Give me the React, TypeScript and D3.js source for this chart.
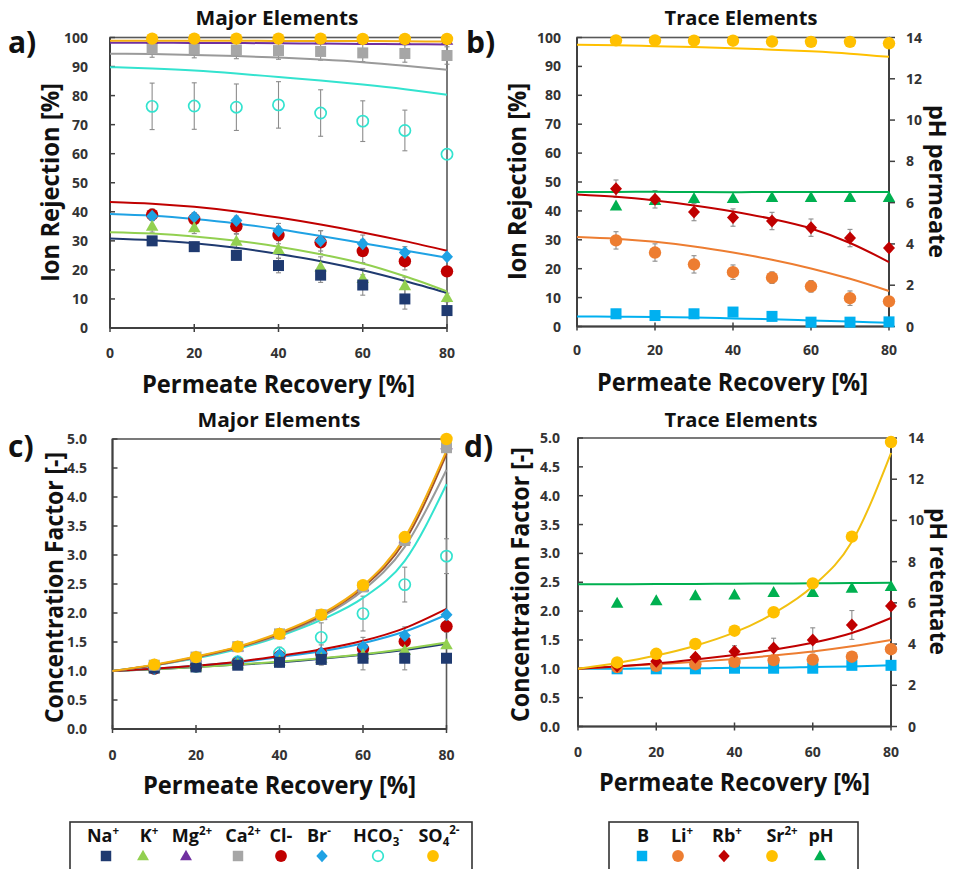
import React from "react";
import * as d3 from "d3";

// Sampling points (permeate recovery, %)
const recovery = [10, 20, 30, 40, 50, 60, 70, 80];
const modelRecovery = [0, 10, 20, 30, 40, 50, 60, 70, 80];

// a) Ion rejection, major elements — measurements
const rejNa = [30, 28, 25, 21.5, 18.2, 14.8, 10, 6];
const rejNaErr = [1.5, 1.5, 1.5, 2.5, 2.5, 3.5, 3.5, 1];
const rejK = [35, 34.5, 29.8, 27, 21, 17, 14.5, 10.5];
const rejKErr = [2, 2, 2.5, 3, 3.5, 3.5, 3, 1.5];
const rejMg = [99.4, 99.4, 99.3, 99.3, 99.2, 99.2, 99.1, 99];
const rejCa = [96.2, 96, 95.7, 95.5, 95.2, 94.7, 94.5, 93.8];
const rejCaErr = [3, 3, 3, 3, 3, 3, 3, 3];
const rejCl = [39, 37.5, 35, 32, 29.5, 26.5, 23, 19.5];
const rejClErr = [2, 2, 2.5, 3, 4, 4, 3, 1.5];
const rejBr = [38.5, 38.2, 37, 33.5, 30, 29, 26, 24.5];
const rejBrErr = [1.5, 1.5, 1.5, 2.5, 3.5, 3, 2, 1];
const rejHCO3 = [76.3, 76.4, 76, 76.8, 74, 71.2, 68, 59.8];
const rejHCO3Err = [8, 8, 8, 8, 8, 7, 7, 0];
const rejSO4 = [99.6, 99.6, 99.6, 99.6, 99.6, 99.5, 99.5, 99.5];

// a) model curves
const modRejNa = [30.8, 30.2, 29.2, 27.6, 25.5, 23, 19.9, 16.2, 12.1];
const modRejK = [33, 32.5, 31.5, 30, 28, 25.4, 22.2, 17.8, 12.6];
const modRejMg = [98.2, 98.2, 98.1, 98.1, 98, 97.9, 97.8, 97.7, 97.6];
const modRejCa = [94.4, 94.3, 94, 93.6, 93.1, 92.4, 91.5, 90.3, 88.9];
const modRejCl = [43.4, 42.8, 41.7, 40.1, 38, 35.6, 32.9, 29.9, 26.6];
const modRejBr = [39.2, 38.6, 37.5, 36, 34, 31.7, 29.2, 26.7, 24.2];
const modRejHCO3 = [89.8, 89.3, 88.6, 87.6, 86.4, 85.2, 83.8, 82.2, 80.3];
const modRejSO4 = [98.9, 98.9, 98.9, 98.9, 98.8, 98.8, 98.8, 98.7, 98.6];

// b) Ion rejection, trace elements — measurements
const rejB = [4.4, 3.8, 4.4, 5.0, 3.5, 1.5, 1.5, 1.6];
const rejBErr = [1.5, 1.5, 1.5, 1.5, 1.5, 1, 1, 0.5];
const rejLi = [29.8, 25.6, 21.5, 18.8, 16.9, 13.9, 9.8, 8.7];
const rejLiErr = [3, 3, 3, 2.5, 2, 2, 2.5, 1];
const rejRb = [47.7, 44, 39.6, 37.7, 36.5, 34.2, 30.6, 27.2];
const rejRbErr = [3, 3, 3, 3, 3, 3, 3, 1];
const rejSr = [99, 99, 98.9, 98.9, 98.6, 98.5, 98.5, 98];
const pHPermeate = [5.83, 6.1, 6.2, 6.2, 6.25, 6.25, 6.25, 6.25];

// b) model curves
const modRejB = [3.5, 3.4, 3.3, 3.1, 2.8, 2.5, 2.1, 1.7, 1.3];
const modRejLi = [31, 30.4, 29.3, 27.7, 25.6, 23.1, 20.1, 16.5, 12.3];
const modRejRb = [45.7, 44.9, 43.6, 41.9, 39.8, 37.2, 33.9, 28.9, 22.3];
const modRejSr = [97.5, 97.3, 97, 96.7, 96.3, 95.8, 95.2, 94.4, 93.3];
const modPHPermeate = [6.52, 6.52, 6.53, 6.51, 6.5, 6.52, 6.52, 6.52, 6.52];

// c) Concentration factor, major elements — measurements
const cfNa = [1.05, 1.07, 1.1, 1.15, 1.2, 1.22, 1.22, 1.22];
const cfNaErr = [0.03, 0.03, 0.05, 0.08, 0.1, 0.2, 0.2, 0.05];
const cfK = [1.05, 1.07, 1.12, 1.17, 1.22, 1.28, 1.35, 1.45];
const cfMg = [1.1, 1.24, 1.41, 1.64, 1.96, 2.45, 3.28, 4.9];
const cfCa = [1.1, 1.24, 1.42, 1.64, 1.97, 2.45, 3.25, 4.85];
const cfCl = [1.04, 1.08, 1.14, 1.25, 1.3, 1.38, 1.51, 1.77];
const cfClErr = [0.03, 0.05, 0.08, 0.1, 0.15, 0.2, 0.25, 0.1];
const cfBr = [1.04, 1.08, 1.16, 1.28, 1.31, 1.42, 1.61, 1.97];
const cfHCO3 = [1.05, 1.08, 1.16, 1.31, 1.58, 1.99, 2.49, 2.98];
const cfHCO3Err = [0.03, 0.05, 0.08, 0.1, 0.25, 0.3, 0.3, 0.3];
const cfSO4 = [1.11, 1.24, 1.42, 1.64, 1.97, 2.48, 3.31, 5.0];

// c) model curves
const modCfNa = [1, 1.03, 1.07, 1.11, 1.15, 1.21, 1.28, 1.36, 1.47];
const modCfK = [1, 1.03, 1.07, 1.11, 1.16, 1.22, 1.29, 1.38, 1.49];
const modCfMg = [1, 1.1, 1.24, 1.41, 1.64, 1.96, 2.44, 3.24, 4.74];
const modCfCa = [1, 1.1, 1.23, 1.4, 1.62, 1.93, 2.39, 3.14, 4.47];
const modCfCl = [1, 1.04, 1.09, 1.16, 1.26, 1.37, 1.52, 1.74, 2.07];
const modCfBr = [1, 1.04, 1.09, 1.15, 1.24, 1.34, 1.48, 1.68, 1.97];
const modCfHCO3 = [1, 1.1, 1.22, 1.38, 1.6, 1.88, 2.26, 2.9, 4.22];
const modCfSO4 = [1, 1.11, 1.25, 1.42, 1.66, 1.98, 2.47, 3.3, 4.8];

// d) Concentration factor, trace elements — measurements
const cfB = [1.0, 1.0, 1.0, 1.01, 1.01, 1.01, 1.06, 1.06];
const cfLi = [1.03, 1.05, 1.08, 1.12, 1.15, 1.16, 1.21, 1.34];
const cfLiErr = [0.03, 0.03, 0.04, 0.05, 0.05, 0.05, 0.06, 0.04];
const cfRb = [1.05, 1.13, 1.2, 1.3, 1.36, 1.5, 1.76, 2.09];
const cfRbErr = [0.03, 0.05, 0.06, 0.1, 0.17, 0.21, 0.25, 0.05];
const cfSr = [1.11, 1.26, 1.43, 1.66, 1.98, 2.48, 3.29, 4.93];
const pHRetentate = [5.98, 6.1, 6.34, 6.38, 6.5, 6.5, 6.7, 6.79];

// d) model curves
const modCfB = [1, 1, 1.01, 1.01, 1.02, 1.02, 1.03, 1.04, 1.06];
const modCfLi = [1, 1.04, 1.08, 1.12, 1.17, 1.23, 1.3, 1.39, 1.5];
const modCfRb = [1, 1.04, 1.09, 1.16, 1.24, 1.33, 1.45, 1.62, 1.88];
const modCfSr = [1, 1.1, 1.23, 1.4, 1.63, 1.96, 2.43, 3.2, 4.74];
const modPHRetentate = [6.9, 6.9, 6.91, 6.92, 6.93, 6.94, 6.95, 6.96, 6.98];

// Axis ticks
const xTicks = [0, 20, 40, 60, 80];
const rejTicks = [0, 10, 20, 30, 40, 50, 60, 70, 80, 90, 100];
const cfTicks = [0, 0.5, 1, 1.5, 2, 2.5, 3, 3.5, 4, 4.5, 5];
const pHTicks = [0, 2, 4, 6, 8, 10, 12, 14];

// Palette
const C = {
  na: "#1F3A70",
  k: "#92D050",
  mg: "#7030A0",
  ca: "#A6A6A6",
  cl: "#C00000",
  br: "#1FA2E4",
  hco3: "#33E3CF",
  so4: "#FFC000",
  so4Line: "#F5AE10",
  b: "#00B0F0",
  li: "#ED7D31",
  rb: "#C00000",
  sr: "#FFC000",
  ph: "#00B050",
};

const FONT = "'Open Sans', 'DejaVu Sans', sans-serif";
const AXIS = "#404040";
const TICK_TEXT = "#333333";

type Shape = "square" | "triangle" | "circle" | "diamond" | "ring";

function Marker({ shape, x, y, color, s = 1 }: { shape: Shape; x: number; y: number; color: string; s?: number }) {
  switch (shape) {
    case "square":
      return <rect x={x - 5.5 * s} y={y - 5.5 * s} width={11 * s} height={11 * s} fill={color} />;
    case "triangle": {
      const h = 11 * s;
      const w = 12.5 * s;
      return <path d={`M${x},${y - h * 0.6}L${x + w / 2},${y + h * 0.4}L${x - w / 2},${y + h * 0.4}Z`} fill={color} />;
    }
    case "circle":
      return <circle cx={x} cy={y} r={6.2 * s} fill={color} />;
    case "diamond":
      return <path d={`M${x},${y - 6.5 * s}L${x + 6 * s},${y}L${x},${y + 6.5 * s}L${x - 6 * s},${y}Z`} fill={color} />;
    case "ring":
      return <circle cx={x} cy={y} r={5.6 * s} fill="none" stroke={color} strokeWidth={1.7} />;
  }
}

interface PointSeries {
  ys: number[];
  err?: number[];
  shape: Shape;
  color: string;
  right?: boolean;
}
interface CurveSeries {
  ys: number[];
  color: string;
  right?: boolean;
}
interface Box {
  left: number;
  right: number;
  bottom: number;
  top: number;
}

function Panel({
  box,
  yMax,
  yTicks,
  yFmt,
  yLabelEnd,
  xLabelBaseline,
  rightMax,
  rightTicks,
  rightLabelStart,
  curves,
  points,
}: {
  box: Box;
  yMax: number;
  yTicks: number[];
  yFmt: (v: number) => string;
  yLabelEnd: number;
  xLabelBaseline: number;
  rightMax?: number;
  rightTicks?: number[];
  rightLabelStart?: number;
  curves: CurveSeries[];
  points: PointSeries[];
}) {
  const x = d3.scaleLinear().domain([0, 80]).range([box.left, box.right]);
  const y = d3.scaleLinear().domain([0, yMax]).range([box.bottom, box.top]);
  const yR = d3.scaleLinear().domain([0, rightMax ?? 1]).range([box.bottom, box.top]);
  const lineFor = (sc: d3.ScaleLinear<number, number>) =>
    d3
      .line<number>()
      .x((_, i) => x(modelRecovery[i]))
      .y((v) => sc(v))
      .curve(d3.curveMonotoneX);

  return (
    <g>
      {/* plot frame */}
      <rect
        x={box.left}
        y={box.top}
        width={box.right - box.left}
        height={box.bottom - box.top}
        fill="none"
        stroke="#595959"
        strokeWidth={1.6}
      />
      {/* left axis */}
      <line x1={box.left} x2={box.left} y1={box.bottom} y2={box.top} stroke={AXIS} strokeWidth={2} />
      {yTicks.map((t) => (
        <g key={`y${t}`}>
          <line x1={box.left} x2={box.left + 5} y1={y(t)} y2={y(t)} stroke={AXIS} strokeWidth={1.5} />
          <text
            x={yLabelEnd}
            y={y(t) + 5}
            textAnchor="end"
            fontFamily={FONT}
            fontWeight={700}
            fontSize={14}
            fill={TICK_TEXT}
          >
            {yFmt(t)}
          </text>
        </g>
      ))}
      {/* bottom axis */}
      <line x1={box.left} x2={box.right} y1={box.bottom} y2={box.bottom} stroke={AXIS} strokeWidth={2} />
      {xTicks.map((t) => (
        <g key={`x${t}`}>
          <line x1={x(t)} x2={x(t)} y1={box.bottom - 4} y2={box.bottom + 4} stroke={AXIS} strokeWidth={1.5} />
          <text
            x={x(t)}
            y={xLabelBaseline}
            textAnchor="middle"
            fontFamily={FONT}
            fontWeight={700}
            fontSize={14}
            fill={TICK_TEXT}
          >
            {t}
          </text>
        </g>
      ))}
      {/* right (pH) axis */}
      {rightTicks && (
        <g>
          <line x1={box.right} x2={box.right} y1={box.bottom} y2={box.top} stroke={AXIS} strokeWidth={2} />
          {rightTicks.map((t) => (
            <g key={`r${t}`}>
              <line x1={box.right} x2={box.right + 6} y1={yR(t)} y2={yR(t)} stroke={AXIS} strokeWidth={1.5} />
              <text
                x={rightLabelStart}
                y={yR(t) + 5}
                textAnchor="start"
                fontFamily={FONT}
                fontWeight={700}
                fontSize={14}
                fill={TICK_TEXT}
              >
                {t}
              </text>
            </g>
          ))}
        </g>
      )}
      {/* error bars */}
      {points.map((p, si) =>
        p.err
          ? p.ys.map((v, i) => {
              const sc = p.right ? yR : y;
              const e = p.err![i];
              if (!e) return null;
              const cx = x(recovery[i]);
              return (
                <g key={`e${si}-${i}`} stroke="#8C8C8C" strokeWidth={1.1}>
                  <line x1={cx} x2={cx} y1={sc(v - e)} y2={sc(v + e)} />
                  <line x1={cx - 2.5} x2={cx + 2.5} y1={sc(v - e)} y2={sc(v - e)} />
                  <line x1={cx - 2.5} x2={cx + 2.5} y1={sc(v + e)} y2={sc(v + e)} />
                </g>
              );
            })
          : null
      )}
      {/* model curves */}
      {curves.map((c, i) => (
        <path
          key={`c${i}`}
          d={lineFor(c.right ? yR : y)(c.ys) ?? ""}
          fill="none"
          stroke={c.color}
          strokeWidth={2}
        />
      ))}
      {/* measured points */}
      {points.map((p, si) =>
        p.ys.map((v, i) => (
          <Marker
            key={`m${si}-${i}`}
            shape={p.shape}
            x={x(recovery[i])}
            y={(p.right ? yR : y)(v)}
            color={p.color}
          />
        ))
      )}
    </g>
  );
}

function Label({
  x,
  y,
  text,
  size,
  rotate = 0,
  anchor = "middle",
  len,
}: {
  x: number;
  y: number;
  text: string;
  size: number;
  rotate?: number;
  anchor?: string;
  len?: number;
}) {
  return (
    <text
      transform={`translate(${x},${y}) rotate(${rotate})`}
      textAnchor={anchor}
      fontFamily={FONT}
      fontWeight={700}
      fontSize={size}
      fill="#111"
      textLength={len}
      lengthAdjust={len ? "spacingAndGlyphs" : undefined}
    >
      {text}
    </text>
  );
}

// Legend entry: base text with optional subscript / superscript
function Ion({ x, y, base, sub, sup }: { x: number; y: number; base: string; sub?: string; sup?: string }) {
  return (
    <text x={x} y={y} textAnchor="middle" fontFamily={FONT} fontWeight={700} fontSize={18} fill="#111">
      <tspan>{base}</tspan>
      {sub && (
        <tspan dy={4} fontSize={11.5}>
          {sub}
        </tspan>
      )}
      {sup && (
        <tspan dy={sub ? -12 : -7} fontSize={11.5}>
          {sup}
        </tspan>
      )}
    </text>
  );
}

const majorLegend = [
  { base: "Na", sup: "+", shape: "square" as Shape, color: C.na, tx: 103, mx: 106 },
  { base: "K", sup: "+", shape: "triangle" as Shape, color: C.k, tx: 149, mx: 143 },
  { base: "Mg", sup: "2+", shape: "triangle" as Shape, color: C.mg, tx: 192, mx: 186 },
  { base: "Ca", sup: "2+", shape: "square" as Shape, color: C.ca, tx: 243, mx: 238 },
  { base: "Cl-", shape: "circle" as Shape, color: C.cl, tx: 281, mx: 281 },
  { base: "Br", sup: "-", shape: "diamond" as Shape, color: C.br, tx: 319, mx: 322 },
  { base: "HCO", sub: "3", sup: "-", shape: "ring" as Shape, color: C.hco3, tx: 378, mx: 378 },
  { base: "SO", sub: "4", sup: "2-", shape: "circle" as Shape, color: C.so4, tx: 439, mx: 433 },
];

const traceLegend = [
  { base: "B", shape: "square" as Shape, color: C.b, tx: 643, mx: 642 },
  { base: "Li", sup: "+", shape: "circle" as Shape, color: C.li, tx: 682, mx: 678 },
  { base: "Rb", sup: "+", shape: "diamond" as Shape, color: C.rb, tx: 727, mx: 724 },
  { base: "Sr", sup: "2+", shape: "circle" as Shape, color: C.sr, tx: 782, mx: 772 },
  { base: "pH", shape: "triangle" as Shape, color: C.ph, tx: 821, mx: 820 },
];

export default function App() {
  const f0 = (v: number) => String(v);
  const f1 = d3.format(".1f");

  return (
    <svg
      width={958}
      height={869}
      viewBox="0 0 958 869"
      style={{ position: "absolute", left: 0, top: 0, background: "#fff" }}
    >
      <rect width={958} height={869} fill="#fff" />

      {/* a) rejection, major elements */}
      <Panel
        box={{ left: 110, right: 447, bottom: 328, top: 37.5 }}
        yMax={100}
        yTicks={rejTicks}
        yFmt={f0}
        yLabelEnd={88}
        xLabelBaseline={358}
        curves={[
          { ys: modRejNa, color: C.na },
          { ys: modRejK, color: C.k },
          { ys: modRejBr, color: C.br },
          { ys: modRejCl, color: C.cl },
          { ys: modRejHCO3, color: C.hco3 },
          { ys: modRejCa, color: "#9A9A9A" },
          { ys: modRejMg, color: C.mg },
          { ys: modRejSO4, color: C.so4Line },
        ]}
        points={[
          { ys: rejCa, err: rejCaErr, shape: "square", color: C.ca },
          { ys: rejHCO3, err: rejHCO3Err, shape: "ring", color: C.hco3 },
          { ys: rejCl, err: rejClErr, shape: "circle", color: C.cl },
          { ys: rejBr, err: rejBrErr, shape: "diamond", color: C.br },
          { ys: rejK, err: rejKErr, shape: "triangle", color: C.k },
          { ys: rejNa, err: rejNaErr, shape: "square", color: C.na },
          { ys: rejMg, shape: "triangle", color: C.mg },
          { ys: rejSO4, shape: "circle", color: C.so4 },
        ]}
      />

      {/* b) rejection, trace elements */}
      <Panel
        box={{ left: 577, right: 889, bottom: 326.5, top: 37.5 }}
        yMax={100}
        yTicks={rejTicks}
        yFmt={f0}
        yLabelEnd={561}
        xLabelBaseline={355}
        rightMax={14}
        rightTicks={pHTicks}
        rightLabelStart={906}
        curves={[
          { ys: modRejB, color: C.b },
          { ys: modRejLi, color: C.li },
          { ys: modRejRb, color: C.rb },
          { ys: modPHPermeate, color: C.ph, right: true },
          { ys: modRejSr, color: C.sr },
        ]}
        points={[
          { ys: pHPermeate, shape: "triangle", color: C.ph, right: true },
          { ys: rejB, err: rejBErr, shape: "square", color: C.b },
          { ys: rejLi, err: rejLiErr, shape: "circle", color: C.li },
          { ys: rejRb, err: rejRbErr, shape: "diamond", color: C.rb },
          { ys: rejSr, shape: "circle", color: C.sr },
        ]}
      />

      {/* c) concentration factor, major elements */}
      <Panel
        box={{ left: 112.5, right: 446.5, bottom: 729, top: 439 }}
        yMax={5}
        yTicks={cfTicks}
        yFmt={f1}
        yLabelEnd={87}
        xLabelBaseline={760}
        curves={[
          { ys: modCfNa, color: C.na },
          { ys: modCfK, color: C.k },
          { ys: modCfBr, color: C.br },
          { ys: modCfCl, color: C.cl },
          { ys: modCfHCO3, color: C.hco3 },
          { ys: modCfCa, color: "#9A9A9A" },
          { ys: modCfMg, color: "#A0522D" },
          { ys: modCfSO4, color: C.so4Line },
        ]}
        points={[
          { ys: cfHCO3, err: cfHCO3Err, shape: "ring", color: C.hco3 },
          { ys: cfCl, err: cfClErr, shape: "circle", color: C.cl },
          { ys: cfBr, shape: "diamond", color: C.br },
          { ys: cfK, shape: "triangle", color: C.k },
          { ys: cfNa, err: cfNaErr, shape: "square", color: C.na },
          { ys: cfMg, shape: "triangle", color: C.mg },
          { ys: cfCa, shape: "square", color: C.ca },
          { ys: cfSO4, shape: "circle", color: C.so4 },
        ]}
      />

      {/* d) concentration factor, trace elements */}
      <Panel
        box={{ left: 578, right: 891, bottom: 726.5, top: 438 }}
        yMax={5}
        yTicks={cfTicks}
        yFmt={f1}
        yLabelEnd={560}
        xLabelBaseline={757}
        rightMax={14}
        rightTicks={pHTicks}
        rightLabelStart={908}
        curves={[
          { ys: modCfB, color: C.b },
          { ys: modCfLi, color: C.li },
          { ys: modCfRb, color: C.rb },
          { ys: modCfSr, color: "#F2C010" },
          { ys: modPHRetentate, color: C.ph, right: true },
        ]}
        points={[
          { ys: pHRetentate, shape: "triangle", color: C.ph, right: true },
          { ys: cfB, shape: "square", color: C.b },
          { ys: cfLi, err: cfLiErr, shape: "circle", color: C.li },
          { ys: cfRb, err: cfRbErr, shape: "diamond", color: C.rb },
          { ys: cfSr, shape: "circle", color: C.sr },
        ]}
      />

      {/* panel titles */}
      <Label x={277} y={25} text="Major Elements" size={20} len={163} />
      <Label x={741} y={25} text="Trace Elements" size={20} len={153} />
      <Label x={279} y={427} text="Major Elements" size={20} len={163} />
      <Label x={741} y={427} text="Trace Elements" size={20} len={153} />

      {/* panel letters */}
      <Label x={8} y={53} text="a)" size={30} anchor="start" />
      <Label x={466} y={53} text="b)" size={30} anchor="start" />
      <Label x={8} y={457} text="c)" size={30} anchor="start" />
      <Label x={464} y={457} text="d)" size={30} anchor="start" />

      {/* axis titles */}
      <Label x={278.5} y={393} text="Permeate Recovery [%]" size={25} len={273} />
      <Label x={732.5} y={391} text="Permeate Recovery [%]" size={25} len={271} />
      <Label x={279.5} y={794} text="Permeate Recovery [%]" size={25} len={273} />
      <Label x={734.5} y={791} text="Permeate Recovery [%]" size={25} len={271} />

      <Label x={59} y={182.5} text="Ion Rejection [%]" size={25} rotate={-90} len={199} />
      <Label x={526} y={181.5} text="Ion Rejection [%]" size={25} rotate={-90} len={197} />
      <Label x={63} y={587.5} text="Concentration Factor [-]" size={25} rotate={-90} len={271} />
      <Label x={529} y={584.5} text="Concentration Factor [-]" size={25} rotate={-90} len={275} />

      <Label x={929} y={181.5} text="pH permeate" size={24} rotate={90} len={153} />
      <Label x={930} y={581.5} text="pH retentate" size={24} rotate={90} len={147} />

      {/* legends */}
      <rect x={70} y={822} width={402} height={70} fill="#fff" stroke="#333" strokeWidth={1.6} />
      {majorLegend.map((l) => (
        <g key={l.base}>
          <Ion x={l.tx} y={842} base={l.base} sub={l.sub} sup={l.sup} />
          <Marker shape={l.shape} x={l.mx} y={856} color={l.color} s={0.95} />
        </g>
      ))}
      <rect x={609} y={822} width={249} height={70} fill="#fff" stroke="#333" strokeWidth={1.6} />
      {traceLegend.map((l) => (
        <g key={l.base}>
          <Ion x={l.tx} y={842} base={l.base} sup={l.sup} />
          <Marker shape={l.shape} x={l.mx} y={856} color={l.color} s={0.95} />
        </g>
      ))}
    </svg>
  );
}
